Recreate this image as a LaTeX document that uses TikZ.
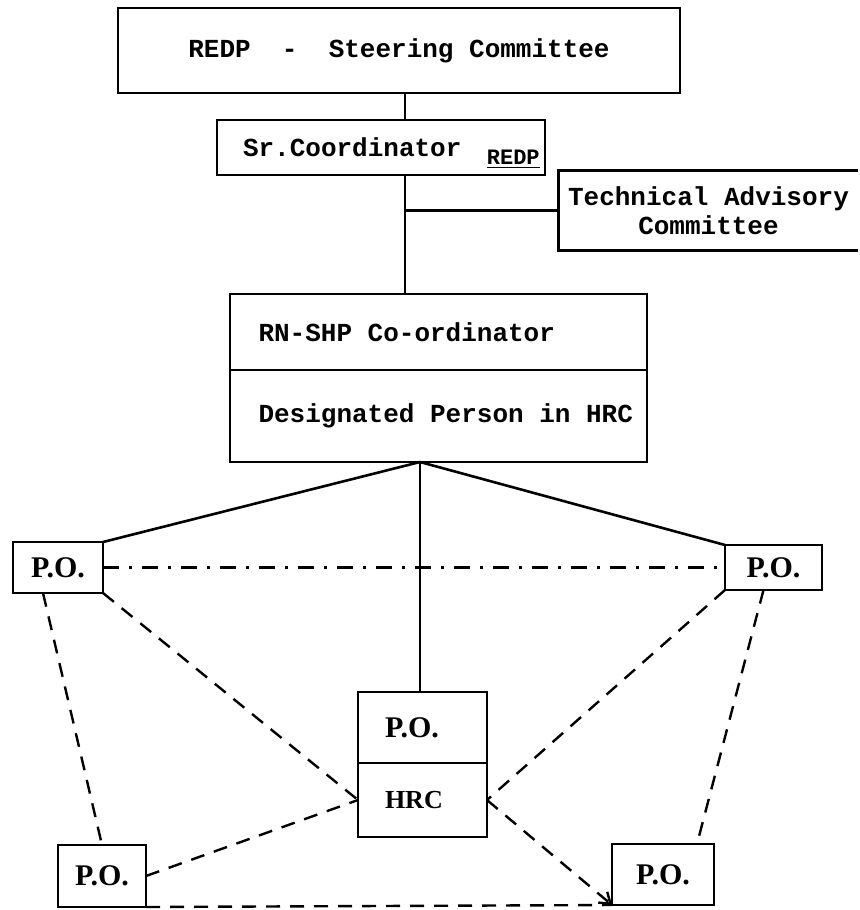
\documentclass[tikz,border=0pt]{standalone}
\usepackage{fontspec}
\setmainfont{Liberation Serif}
\newfontfamily\typefont{Liberation Mono}
\usetikzlibrary{arrows.meta}

\begin{document}
\begin{tikzpicture}[
  x=0.5pt, y=-0.5pt,
  line width=1.3pt,
  block/.style={
    draw,
    font={\typefont\bfseries\fontsize{13}{15}\selectfont},
    inner sep=0pt,
    outer sep=0pt
  },
  pobox/.style={
    draw,
    font={\bfseries\fontsize{15}{17}\selectfont},
    inner sep=0pt,
    outer sep=0pt
  },
  link/.style={line width=1.2pt, dash pattern=on 7pt off 5pt},
  mixlink/.style={line width=1.2pt, dash pattern=on 8pt off 5pt on 1.5pt off 5pt},
  arrow/.style={-{Straight Barb[length=5pt,width=7pt]}}
]
\useasboundingbox (0,0) rectangle (859,910);

% upper chain
\node[block, minimum width=281pt, minimum height=42.5pt] (steer) at (399,50.5)
  {REDP~~-~~Steering Committee};
\node[block, minimum width=164pt, minimum height=27.5pt, text width=138pt,
  inner xsep=13pt, align=flush left] (sr) at (381,147.5) {Sr.Coordinator};
\node[font={\typefont\bfseries\fontsize{11}{12}\selectfont}, anchor=south east,
  inner sep=1pt] (srsub) at ([xshift=-1pt,yshift=1.5pt]sr.south east) {\underline{REDP}};
\node[font={\typefont\bfseries\fontsize{13}{14.5}\selectfont}, align=center,
  minimum width=148.5pt, minimum height=38.5pt, inner sep=0pt] (tac) at (708.5,210.5)
  {Technical Advisory\\Committee};
\draw (tac.north east) -- (tac.north west) -- (tac.south west) -- (tac.south east);

\node[block, minimum width=208.5pt, minimum height=38pt, text width=200pt,
  align=flush left] (rn) at (438.5,332) {\hspace*{10pt}RN-SHP Co-ordinator};
\node[block, minimum width=208.5pt, minimum height=46pt, text width=200pt,
  align=flush left] (dp) at (438.5,416) {\hspace*{10pt}Designated Person in HRC};

% offices
\node[pobox, minimum width=45pt, minimum height=25.5pt] (tl) at (58,567.5) {P.O.};
\node[pobox, minimum width=48.5pt, minimum height=22.5pt] (tr) at (773.5,567.5) {P.O.};
\node[pobox, minimum width=44pt, minimum height=31pt] (bl) at (102,876) {P.O.};
\node[pobox, minimum width=51pt, minimum height=30.5pt] (br) at (663,874.5) {P.O.};
\node[pobox, minimum width=64.5pt, minimum height=35.5pt, text width=37.5pt,
  inner xsep=13.5pt, align=flush left] (cpo) at (422.5,727.5) {P.O.};
\node[pobox, minimum width=64.5pt, minimum height=37pt, text width=37.5pt,
  inner xsep=13.5pt, align=flush left, font={\bfseries\fontsize{13}{15}\selectfont}]
  (hrc) at (422.5,800) {HRC};

\coordinate (spine) at (405,0);
\coordinate (hub) at (420,462);

\draw (steer.south -| spine) -- (sr.north -| spine);
\draw (sr.south -| spine) -- (rn.north -| spine);
\draw (tac.west -| spine) -- (tac.west);
\draw (hub) -- (tl.north east);
\draw (hub) -- (tr.north west);
\draw (hub) -- (cpo.north -| hub);

\draw[mixlink] (tl.east) -- (tr.west);
\draw[link] ([xshift=-7.5pt]tl.south) -- (bl.north);
\draw[link] (tl.south east) -- (hrc.west);
\draw[link] (bl.east) -- (hrc.west);
\draw[link] (bl.south east) -- (br.south west);
\draw[link, arrow] (hrc.east) -- (br.south west);
\draw[link] (tr.south west) -- (hrc.east);
\draw[link] ([xshift=-5pt]tr.south) -- ([xshift=17pt]br.north);
\end{tikzpicture}
\end{document}
